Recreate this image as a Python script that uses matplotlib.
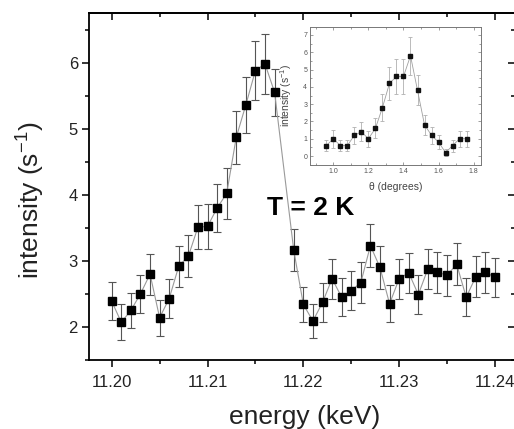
import matplotlib
matplotlib.use("Agg")
import matplotlib.pyplot as plt
from matplotlib.ticker import MultipleLocator, FixedLocator


# ------------------------------
# data: energy scan at T = 2 K
# ------------------------------
energy = [11.200, 11.201, 11.202, 11.203, 11.204, 11.205, 11.206, 11.207,
          11.208, 11.209, 11.210, 11.211, 11.212, 11.213, 11.214, 11.215,
          11.216, 11.217, 11.219, 11.220, 11.221, 11.222, 11.223, 11.224,
          11.225, 11.226, 11.227, 11.228, 11.229, 11.230, 11.231, 11.232,
          11.233, 11.234, 11.235, 11.236, 11.237, 11.238, 11.239, 11.240]
intensity = [2.39, 2.07, 2.25, 2.50, 2.80, 2.14, 2.43, 2.92,
             3.07, 3.51, 3.52, 3.80, 4.02, 4.87, 5.36, 5.88,
             5.98, 5.55, 3.16, 2.34, 2.09, 2.37, 2.73, 2.45,
             2.55, 2.67, 3.23, 2.90, 2.35, 2.73, 2.82, 2.49,
             2.88, 2.83, 2.78, 2.95, 2.45, 2.76, 2.83, 2.75]
intensity_err = [0.29, 0.27, 0.27, 0.29, 0.31, 0.27, 0.29, 0.31,
                 0.32, 0.33, 0.34, 0.36, 0.38, 0.40, 0.42, 0.44,
                 0.45, 0.36, 0.32, 0.27, 0.26, 0.29, 0.30, 0.29,
                 0.30, 0.31, 0.33, 0.32, 0.28, 0.30, 0.30, 0.30,
                 0.30, 0.31, 0.31, 0.32, 0.29, 0.31, 0.31, 0.30]

energy_ticks = [11.20, 11.21, 11.22, 11.23, 11.24]

# inset: rocking curve
theta = [0.96, 1.00, 1.04, 1.08, 1.12, 1.16, 1.20, 1.24, 1.28, 1.32, 1.36,
         1.40, 1.44, 1.48, 1.52, 1.56, 1.60, 1.64, 1.68, 1.72, 1.76]
theta_int = [0.6, 1.0, 0.6, 0.6, 1.2, 1.4, 1.0, 1.6, 2.8, 4.2, 4.6,
             4.6, 5.8, 3.8, 1.8, 1.2, 0.8, 0.2, 0.6, 1.0, 1.0]
theta_err = [0.31, 0.53, 0.31, 0.31, 0.49, 0.55, 0.45, 0.57, 0.77, 0.96, 1.0,
             1.0, 1.1, 0.87, 0.6, 0.49, 0.4, 0.2, 0.35, 0.45, 0.45]


plt.rcParams['font.family'] = ['Liberation Sans', 'DejaVu Sans']
plt.rcParams['mathtext.default'] = 'regular'

W, H = 514, 429
fig = plt.figure(figsize=(W / 100, H / 100), dpi=100)

# main axes (pixel box: x 89..515, y 13..360)
ax = fig.add_axes([89 / W, (H - 360) / H, 426 / W, 347 / H])
ax.errorbar(energy, intensity, yerr=intensity_err, fmt='none',
            ecolor='#555555', elinewidth=0.8, capsize=3, capthick=0.8, zorder=2)
ax.plot(energy, intensity, '-', color='#9a9a9a', lw=0.8, zorder=3)
ax.plot(energy, intensity, 's', color='black', ms=5.6, zorder=4)

ax.set_xlim(11.19763, 11.24209)
ax.set_ylim(1.5, 6.75)
ax.xaxis.set_major_locator(FixedLocator(energy_ticks))
ax.set_xticklabels([f"{t:.2f}" for t in energy_ticks])
ax.xaxis.set_minor_locator(MultipleLocator(0.005))
ax.yaxis.set_major_locator(MultipleLocator(1))
ax.yaxis.set_minor_locator(MultipleLocator(0.5))
ax.tick_params(which='both', direction='out', width=1.1, colors='black',
               labelcolor='#222222', labelsize=12)
ax.tick_params(which='major', length=5)
ax.tick_params(which='minor', length=3)
ax.tick_params(axis='y', pad=3)
ax.tick_params(axis='x', pad=6)
for s in ax.spines.values():
    s.set_linewidth(1.3)

# mirrored ticks pointing inward on top and right
top = ax.secondary_xaxis('top')
top.xaxis.set_major_locator(FixedLocator(energy_ticks))
top.xaxis.set_minor_locator(MultipleLocator(0.005))
top.tick_params(which='both', direction='in', labeltop=False, width=1.1)
top.tick_params(which='major', length=5)
top.tick_params(which='minor', length=3)
top.spines['top'].set_linewidth(1.3)

right = ax.secondary_yaxis('right')
right.yaxis.set_major_locator(MultipleLocator(1))
right.yaxis.set_minor_locator(MultipleLocator(0.5))
right.tick_params(which='both', direction='in', labelright=False, width=1.1)
right.tick_params(which='major', length=5)
right.tick_params(which='minor', length=3)

ax.set_xlabel("energy (keV)", fontsize=19, color='#222222')
ax.set_ylabel("intensity (s$^{-1}$)", fontsize=19, color='#222222')
ax.xaxis.set_label_coords(0.505, -0.131)
ax.yaxis.set_label_coords(-0.099, 0.461)

ax.text(0.418, 0.418, "T = 2 K", transform=ax.transAxes, fontsize=19,
        fontweight='bold', ha='left', va='baseline', zorder=5)

# inset (pixel box: x 310..481, y 26.7..165)
ins = fig.add_axes([310 / W, (H - 165) / H, 171 / W, 138.3 / H])
ins.errorbar(theta, theta_int, yerr=theta_err, fmt='none', ecolor='#b0b0b0',
             elinewidth=0.6, capsize=1.5, capthick=0.6, zorder=2)
ins.plot(theta, theta_int, '-', color='#a0a0a0', lw=0.6, zorder=3)
ins.plot(theta, theta_int, 's', color='#111111', ms=2.9, zorder=4)
ins.set_xlim(0.867, 1.842)
ins.set_ylim(-0.52, 7.48)
ins.xaxis.set_major_locator(MultipleLocator(0.2))
ins.xaxis.set_minor_locator(MultipleLocator(0.1))
ins.yaxis.set_major_locator(MultipleLocator(1))
ins.yaxis.set_minor_locator(MultipleLocator(0.5))
ins.set_xticklabels([])
ins.set_xticks([1.0, 1.2, 1.4, 1.6, 1.8])
ins.set_xticklabels(["1.0", "1.2", "1.4", "1.6", "1.8"])
ins.tick_params(which='both', direction='in', top=True, right=True,
                colors='#777777', labelcolor='#555555', labelsize=5,
                width=0.5, pad=2)
ins.tick_params(which='major', length=2.2)
ins.tick_params(which='minor', length=1.2)
for s in ins.spines.values():
    s.set_linewidth(0.7)
    s.set_color('#777777')
ins.set_xlabel("θ (degrees)", fontsize=7.5, color='#444444')
ins.set_ylabel("intensity (s$^{-1}$)", fontsize=7.5, color='#444444')
ins.xaxis.set_label_coords(0.5, -0.125)
ins.yaxis.set_label_coords(-0.095, 0.506)

fig.savefig("out.png", dpi=100)
